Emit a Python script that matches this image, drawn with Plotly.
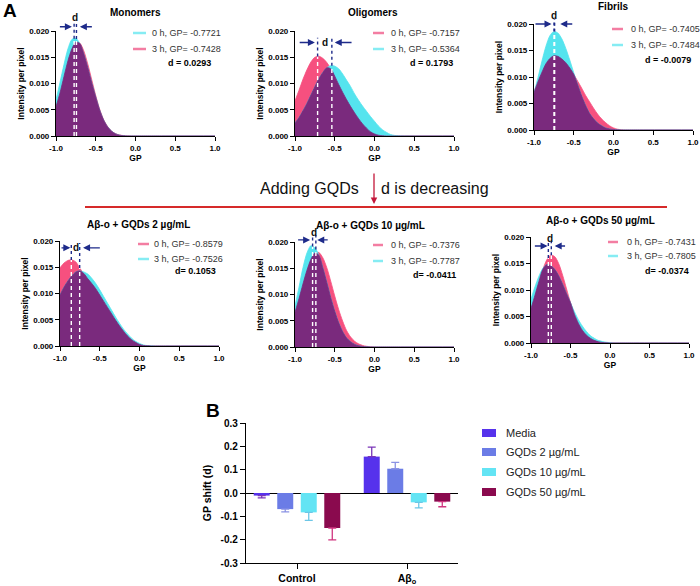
import numpy as np
import plotly.graph_objects as go

W, H = 700, 586
FONT = "Liberation Sans, Arial, Helvetica, sans-serif"

# ---------------- data: GP distributions (intensity per pixel) ----------------
GP_GRID = [-1.00, -0.95, -0.90, -0.85, -0.80, -0.75, -0.70, -0.65, -0.60, -0.55,
           -0.50, -0.45, -0.40, -0.35, -0.30, -0.25, -0.20, -0.15, -0.10, -0.05,
           0.00, 0.05, 0.10, 0.15, 0.20, 0.25, 0.30]
GP_END = 1.0

mono_0h = [0.0069, 0.0102, 0.0136, 0.0166, 0.0184, 0.0186, 0.0176, 0.0156, 0.0130, 0.0101,
           0.0074, 0.0049, 0.0030, 0.0017, 0.0009, 0.0004, 0.00015, 0.00005, 0, 0,
           0, 0, 0, 0, 0, 0, 0]
mono_3h = [0.0056, 0.0082, 0.0113, 0.0143, 0.0166, 0.0179, 0.0177, 0.0162, 0.0137, 0.0107,
           0.0077, 0.0051, 0.0031, 0.0018, 0.0009, 0.00044, 0.00019, 0.00008, 0.00003, 0,
           0, 0, 0, 0, 0, 0, 0]
olig_0h = [0.0067, 0.0087, 0.0108, 0.0126, 0.0141, 0.0150, 0.0152, 0.0148, 0.0140, 0.0128,
           0.0114, 0.0098, 0.0083, 0.0069, 0.0056, 0.0044, 0.0033, 0.0023, 0.0015, 0.0008,
           0.0004, 0.00015, 0.00005, 0, 0, 0, 0]
olig_3h = [0.0025, 0.0035, 0.0048, 0.0062, 0.0078, 0.0094, 0.0109, 0.0121, 0.0130, 0.0134,
           0.0133, 0.0128, 0.0118, 0.0106, 0.0094, 0.0080, 0.0068, 0.0057, 0.0047, 0.0037,
           0.0028, 0.0019, 0.0012, 0.0007, 0.0003, 0.00012, 0.00004]
fib_0h = [0.0073, 0.0091, 0.0109, 0.0125, 0.0135, 0.0140, 0.0139, 0.0134, 0.0127, 0.0117,
          0.0105, 0.0092, 0.0079, 0.0065, 0.0053, 0.0041, 0.0030, 0.0021, 0.0014, 0.0008,
          0.0004, 0.00015, 0.00005, 0, 0, 0, 0]
fib_3h = [0.0070, 0.0099, 0.0130, 0.0158, 0.0178, 0.0186, 0.0183, 0.0172, 0.0154, 0.0132,
          0.0108, 0.0085, 0.0064, 0.0046, 0.0031, 0.0021, 0.0013, 0.0008, 0.0004, 0.0002,
          0.0001, 0.00004, 0, 0, 0, 0, 0]
g2_0h = [0.0149, 0.0158, 0.0163, 0.0164, 0.0160, 0.0148, 0.0138, 0.0128, 0.0119, 0.0109,
         0.0097, 0.0085, 0.0073, 0.0061, 0.0049, 0.0038, 0.0028, 0.0019, 0.0012, 0.0007,
         0.0003, 0.0001, 0.00004, 0, 0, 0, 0]
g2_3h = [0.0097, 0.0112, 0.0124, 0.0134, 0.0141, 0.0143, 0.0141, 0.0137, 0.0129, 0.0119,
         0.0107, 0.0094, 0.0081, 0.0068, 0.0055, 0.0043, 0.0032, 0.0023, 0.0015, 0.0009,
         0.0005, 0.0002, 0.00008, 0.00003, 0, 0, 0]
g10_0h = [0.0066, 0.0092, 0.0120, 0.0146, 0.0167, 0.0179, 0.0180, 0.0170, 0.0151, 0.0125,
          0.0097, 0.0071, 0.0049, 0.0031, 0.0019, 0.0011, 0.0006, 0.0003, 0.00013, 0.00006,
          0.00002, 0, 0, 0, 0, 0, 0]
g10_3h = [0.0078, 0.0114, 0.0151, 0.0179, 0.0193, 0.0189, 0.0175, 0.0151, 0.0123, 0.0094,
          0.0068, 0.0046, 0.0029, 0.0017, 0.0010, 0.0005, 0.00025, 0.0001, 0.00004, 0,
          0, 0, 0, 0, 0, 0, 0]
g50_0h = [0.0065, 0.0090, 0.0116, 0.0139, 0.0157, 0.0166, 0.0163, 0.0150, 0.0128, 0.0102,
          0.0076, 0.0054, 0.0037, 0.0024, 0.0015, 0.0009, 0.0005, 0.00025, 0.0001, 0.00004,
          0, 0, 0, 0, 0, 0, 0]
g50_3h = [0.0083, 0.0106, 0.0126, 0.0141, 0.0148, 0.0146, 0.0139, 0.0127, 0.0111, 0.0093,
          0.0076, 0.0059, 0.0044, 0.0032, 0.0022, 0.0014, 0.0009, 0.0005, 0.0003, 0.00015,
          0.00007, 0, 0, 0, 0, 0, 0]

PANEL_TITLES = ["Monomers", "Oligomers", "Fibrils",
                "Aβ-o + GQDs 2 µg/mL", "Aβ-o + GQDs 10 µg/mL", "Aβ-o + GQDs 50 µg/mL"]
GP_0H = [-0.7721, -0.7157, -0.7405, -0.8579, -0.7376, -0.7431]
GP_3H = [-0.7428, -0.5364, -0.7484, -0.7526, -0.7787, -0.7805]
LEG_0H = ["0 h, GP= -0.7721", "0 h, GP= -0.7157", "0 h, GP= -0.7405",
          "0 h, GP= -0.8579", "0 h, GP= -0.7376", "0 h, GP= -0.7431"]
LEG_3H = ["3 h, GP= -0.7428", "3 h, GP= -0.5364", "3 h, GP= -0.7484",
          "3 h, GP= -0.7526", "3 h, GP= -0.7787", "3 h, GP= -0.7805"]
D_TEXT = ["d = 0.0293", "d = 0.1793", "d = -0.0079", "d= 0.1053", "d= -0.0411", "d= -0.0374"]

X_TICKS = [-1.0, -0.5, 0.0, 0.5, 1.0]
X_TICK_LABELS = ["-1.0", "-0.5", "0.0", "0.5", "1.0"]
Y_TICKS = [0.0, 0.005, 0.010, 0.015, 0.020]
Y_TICK_LABELS = ["0.000", "0.005", "0.010", "0.015", "0.020"]

# ---------------- data: GP shift bar chart ----------------
BAR_GROUPS = ["Control", "Aβ<sub>o</sub>"]
BAR_SERIES = ["Media", "GQDs 2 µg/mL", "GQDs 10 µg/mL", "GQDs 50 µg/mL"]
media = [-0.011, 0.156]
media_err = [0.010, 0.041]
gqd2 = [-0.069, 0.104]
gqd2_err = [0.012, 0.027]
gqd10 = [-0.083, -0.040]
gqd10_err = [0.034, 0.024]
gqd50 = [-0.150, -0.037]
gqd50_err = [0.051, 0.022]
BAR_TICKS = [-0.3, -0.2, -0.1, 0.0, 0.1, 0.2, 0.3]
BAR_TICK_LABELS = ["-0.3", "-0.2", "-0.1", "0.0", "0.1", "0.2", "0.3"]

# ---------------- styling ----------------
PINK = "#F6507F"
CYAN = "#55E4EE"
PURPLE = "#7A2A7D"
NAVY = "#1E2B8A"
PINK_LEG = "#F37DA2"
CYAN_LEG = "#86ECF3"


def px(x):
    return x / W


def py(y):
    return 1 - y / H


fig = go.Figure()
shapes, annos = [], []

panel_data = [(mono_0h, mono_3h), (olig_0h, olig_3h), (fib_0h, fib_3h),
              (g2_0h, g2_3h), (g10_0h, g10_3h), (g50_0h, g50_3h)]
zero_h_is_cyan = [True, False, False, False, False, False]

# pixel boxes of each small plot: x0, x1, ytop(0.020), ybottom(0)
BOX = [(56, 215, 31, 136), (295, 454, 31, 136), (534, 693, 24, 130),
       (60, 219, 241, 346), (295, 454, 242, 347), (531, 689, 237, 343)]
TITLE_POS = [(135, 13), (373, 13), (613, 6), (138, 224), (370, 225), (600, 221)]
# swatch x0, x1, text x, row1 y, row2 y, d right x, d y
LEG_POS = [(133, 146, 150, 33, 49, 213, 63), (373, 384, 389, 33, 49, 455, 63),
           (612, 623, 629, 29, 45, 693, 60), (138, 149, 152, 244, 259, 218, 271),
           (373, 383, 389, 245, 261, 458, 275), (608, 618, 625, 242, 256, 691, 271)]
# arrow y, left from, left to, right from, right to, d x, d y
ARROWS = [(0.0208, -0.97, -0.80, -0.53, -0.70, -0.758, 0.0226),
          (0.0178, -0.96, -0.75, -0.27, -0.50, -0.626, 0.0178),
          (0.0200, -1.00, -0.78, -0.50, -0.67, -0.745, 0.0216),
          (0.0187, -1.00, -0.87, -0.48, -0.71, -0.805, 0.0188),
          (0.0204, -0.98, -0.81, -0.57, -0.72, -0.760, 0.0218),
          (0.0183, -0.97, -0.79, -0.55, -0.70, -0.756, 0.0198)]

YMAX = Y_TICKS[-1]
tickfont = dict(family=FONT, size=8, color="black", weight="bold")
titlefont = dict(family=FONT, size=8.5, color="black", weight="bold")

for i in range(6):
    k = i + 1
    xa = "x" if k == 1 else f"x{k}"
    ya = "y" if k == 1 else f"y{k}"
    a, b = panel_data[i]
    if zero_h_is_cyan[i]:
        cyan_v, pink_v = a, b
        c0, c1 = CYAN_LEG, PINK_LEG
    else:
        pink_v, cyan_v = a, b
        c0, c1 = PINK_LEG, CYAN_LEG
    overlap = np.minimum(np.array(a), np.array(b))
    xs = GP_GRID + [GP_END]
    for vals, col in [(pink_v, PINK), (cyan_v, CYAN), (overlap, PURPLE)]:
        fig.add_trace(go.Scatter(
            x=xs, y=list(vals) + [0], mode="lines",
            line=dict(color=col, width=0.8, shape="spline", smoothing=0.8),
            fill="tozeroy", fillcolor=col, xaxis=xa, yaxis=ya,
            showlegend=False, hoverinfo="skip"))

    x0, x1, yt, yb = BOX[i]
    fig.layout[("xaxis" if k == 1 else f"xaxis{k}")] = dict(
        domain=[px(x0), px(x1)], anchor=ya, range=[-1, 1],
        tickvals=X_TICKS, ticktext=X_TICK_LABELS,
        showline=True, linecolor="black", linewidth=1.2, ticks="outside",
        ticklen=4, tickwidth=1.2, tickcolor="black", showgrid=False, zeroline=False,
        tickfont=tickfont, title=dict(text="GP", font=titlefont, standoff=3),
        fixedrange=True)
    fig.layout[("yaxis" if k == 1 else f"yaxis{k}")] = dict(
        domain=[py(yb), py(yt)], anchor=xa, range=[0, YMAX],
        tickvals=Y_TICKS, ticktext=Y_TICK_LABELS,
        showline=True, linecolor="black", linewidth=1.2, ticks="outside",
        ticklen=4, tickwidth=1.2, tickcolor="black", showgrid=False, zeroline=False,
        tickfont=tickfont, title=dict(text="Intensity per pixel", font=titlefont, standoff=3),
        fixedrange=True)

    # title
    tx, ty = TITLE_POS[i]
    annos.append(dict(text=f"<b>{PANEL_TITLES[i]}</b>", x=px(tx), y=py(ty), xref="paper",
                      yref="paper", showarrow=False, xanchor="center", yanchor="middle",
                      font=dict(family=FONT, size=10, color="black")))
    # legend
    sx0, sx1, tx0, r1, r2, dxr, dy = LEG_POS[i]
    for (ry, col, txt) in [(r1, c0, LEG_0H[i]), (r2, c1, LEG_3H[i])]:
        shapes.append(dict(type="line", xref="paper", yref="paper", x0=px(sx0), x1=px(sx1),
                           y0=py(ry), y1=py(ry), line=dict(color=col, width=2.5)))
        annos.append(dict(text=txt, x=px(tx0), y=py(ry), xref="paper", yref="paper",
                          showarrow=False, xanchor="left", yanchor="middle",
                          font=dict(family=FONT, size=9, color="#333333")))
    annos.append(dict(text=f"<b>{D_TEXT[i]}</b>", x=px(dxr), y=py(dy), xref="paper",
                      yref="paper", showarrow=False, xanchor="right", yanchor="middle",
                      font=dict(family=FONT, size=9, color="black")))

    # GP markers: white dashed inside, navy dotted above
    yarr, lf, lt, rf, rt, dlx, dly = ARROWS[i]
    ydom = f"{ya} domain"
    for gp in (GP_0H[i], GP_3H[i]):
        hgt = max(np.interp(gp, GP_GRID, a), np.interp(gp, GP_GRID, b))
        shapes.append(dict(type="line", xref=xa, yref=ya, x0=gp, x1=gp, y0=0, y1=hgt,
                           line=dict(color="white", width=1.4, dash="4px,3px")))
        shapes.append(dict(type="line", xref=xa, yref=ydom, x0=gp, x1=gp,
                           y0=hgt / YMAX, y1=(yarr + 0.0009) / YMAX,
                           line=dict(color=NAVY, width=1.4, dash="dot")))
    for (fx, tx_) in [(lf, lt), (rf, rt)]:
        annos.append(dict(x=tx_, y=yarr / YMAX, ax=fx, ay=0, xref=xa, yref=ydom,
                          axref=xa, ayref="pixel",
                          text="", showarrow=True, arrowhead=2, arrowsize=1,
                          arrowwidth=1.4, arrowcolor=NAVY, standoff=0))
    annos.append(dict(text="<b>d</b>", x=dlx, y=dly / YMAX, xref=xa, yref=ydom,
                      showarrow=False, xanchor="center", yanchor="middle",
                      font=dict(family=FONT, size=10, color="#111111")))

# ---------------- bar chart ----------------
bar_vals = [media, gqd2, gqd10, gqd50]
bar_errs = [media_err, gqd2_err, gqd10_err, gqd50_err]
bar_cols = ["#5632EC", "#6B7CE6", "#63E4F4", "#8A0A4E"]
err_cols = ["#7A35B8", "#8A92E4", "#6CC6E6", "#D0357F"]
for name, vals, errs, col, ecol in zip(BAR_SERIES, bar_vals, bar_errs, bar_cols, err_cols):
    plus = [e if v > 0 else 0 for v, e in zip(vals, errs)]
    minus = [e if v < 0 else 0 for v, e in zip(vals, errs)]
    fig.add_trace(go.Bar(
        x=[0, 1], y=vals, name=name, marker=dict(color=col, line=dict(width=0)),
        error_y=dict(type="data", symmetric=False, array=plus, arrayminus=minus,
                     color=ecol, thickness=1.3, width=4),
        xaxis="x7", yaxis="y7", showlegend=False, hoverinfo="skip"))

fig.layout["xaxis7"] = dict(
    domain=[px(246), px(458)], anchor="y7", range=[-0.4636, 1.4636],
    tickvals=[0, 1], ticktext=BAR_GROUPS, showline=True, linecolor="black", linewidth=1.3,
    ticks="outside", ticklen=5, tickwidth=1.3, tickcolor="black", showgrid=False,
    zeroline=False, tickfont=dict(family=FONT, size=10.5, color="black", weight="bold"),
    fixedrange=True)
fig.layout["yaxis7"] = dict(
    domain=[py(563), py(423)], anchor="x7", range=[-0.3, 0.3],
    tickvals=BAR_TICKS, ticktext=BAR_TICK_LABELS, showline=True, linecolor="black",
    linewidth=1.3, ticks="outside", ticklen=5, tickwidth=1.3, tickcolor="black",
    showgrid=False, zeroline=True, zerolinecolor="black", zerolinewidth=1.3,
    tickfont=dict(family=FONT, size=10, color="black", weight="bold"),
    title=dict(text="GP shift (d)", font=dict(family=FONT, size=10.5, color="black",
                                              weight="bold"), standoff=6),
    fixedrange=True)

# bar legend
LEG_ROWS = [433, 452, 472, 492]
for name, col, ry in zip(BAR_SERIES, bar_cols, LEG_ROWS):
    shapes.append(dict(type="rect", xref="paper", yref="paper", x0=px(482), x1=px(496),
                       y0=py(ry + 4), y1=py(ry - 4), fillcolor=col, line=dict(width=0)))
    annos.append(dict(text=name, x=px(504), y=py(ry), xref="paper", yref="paper",
                      showarrow=False, xanchor="left", yanchor="middle",
                      font=dict(family=FONT, size=11, color="#222222")))

# ---------------- middle banner ----------------
annos.append(dict(text="Adding GQDs", x=px(309), y=py(188), xref="paper", yref="paper",
                  showarrow=False, xanchor="center", yanchor="middle",
                  font=dict(family=FONT, size=16, color="#111111")))
annos.append(dict(text="d is decreasing", x=px(435), y=py(188), xref="paper", yref="paper",
                  showarrow=False, xanchor="center", yanchor="middle",
                  font=dict(family=FONT, size=16, color="#111111")))
annos.append(dict(text="", x=px(374), y=py(204), ax=0, ay=-32, xref="paper", yref="paper",
                  showarrow=True, arrowhead=2, arrowsize=1, arrowwidth=1.3,
                  arrowcolor="#C4173A", standoff=0))
shapes.append(dict(type="line", xref="paper", yref="paper", x0=px(85), x1=px(667),
                   y0=py(207), y1=py(207), line=dict(color="#D62A2A", width=2)))

# panel letters
annos.append(dict(text="<b>A</b>", x=px(10), y=py(11), xref="paper", yref="paper",
                  showarrow=False, xanchor="center", yanchor="middle",
                  font=dict(family=FONT, size=19, color="black")))
annos.append(dict(text="<b>B</b>", x=px(213), y=py(410), xref="paper", yref="paper",
                  showarrow=False, xanchor="center", yanchor="middle",
                  font=dict(family=FONT, size=19, color="black")))

fig.update_layout(
    width=W, height=H, margin=dict(l=0, r=0, t=0, b=0),
    template="none", paper_bgcolor="white", plot_bgcolor="white",
    barmode="group", bargap=0.145, bargroupgap=0.32,
    shapes=shapes, annotations=annos, showlegend=False,
    font=dict(family=FONT))

fig.write_html("out.html", config={"displayModeBar": False},
               post_script="document.body.style.margin='0';document.body.style.overflow='hidden';")
